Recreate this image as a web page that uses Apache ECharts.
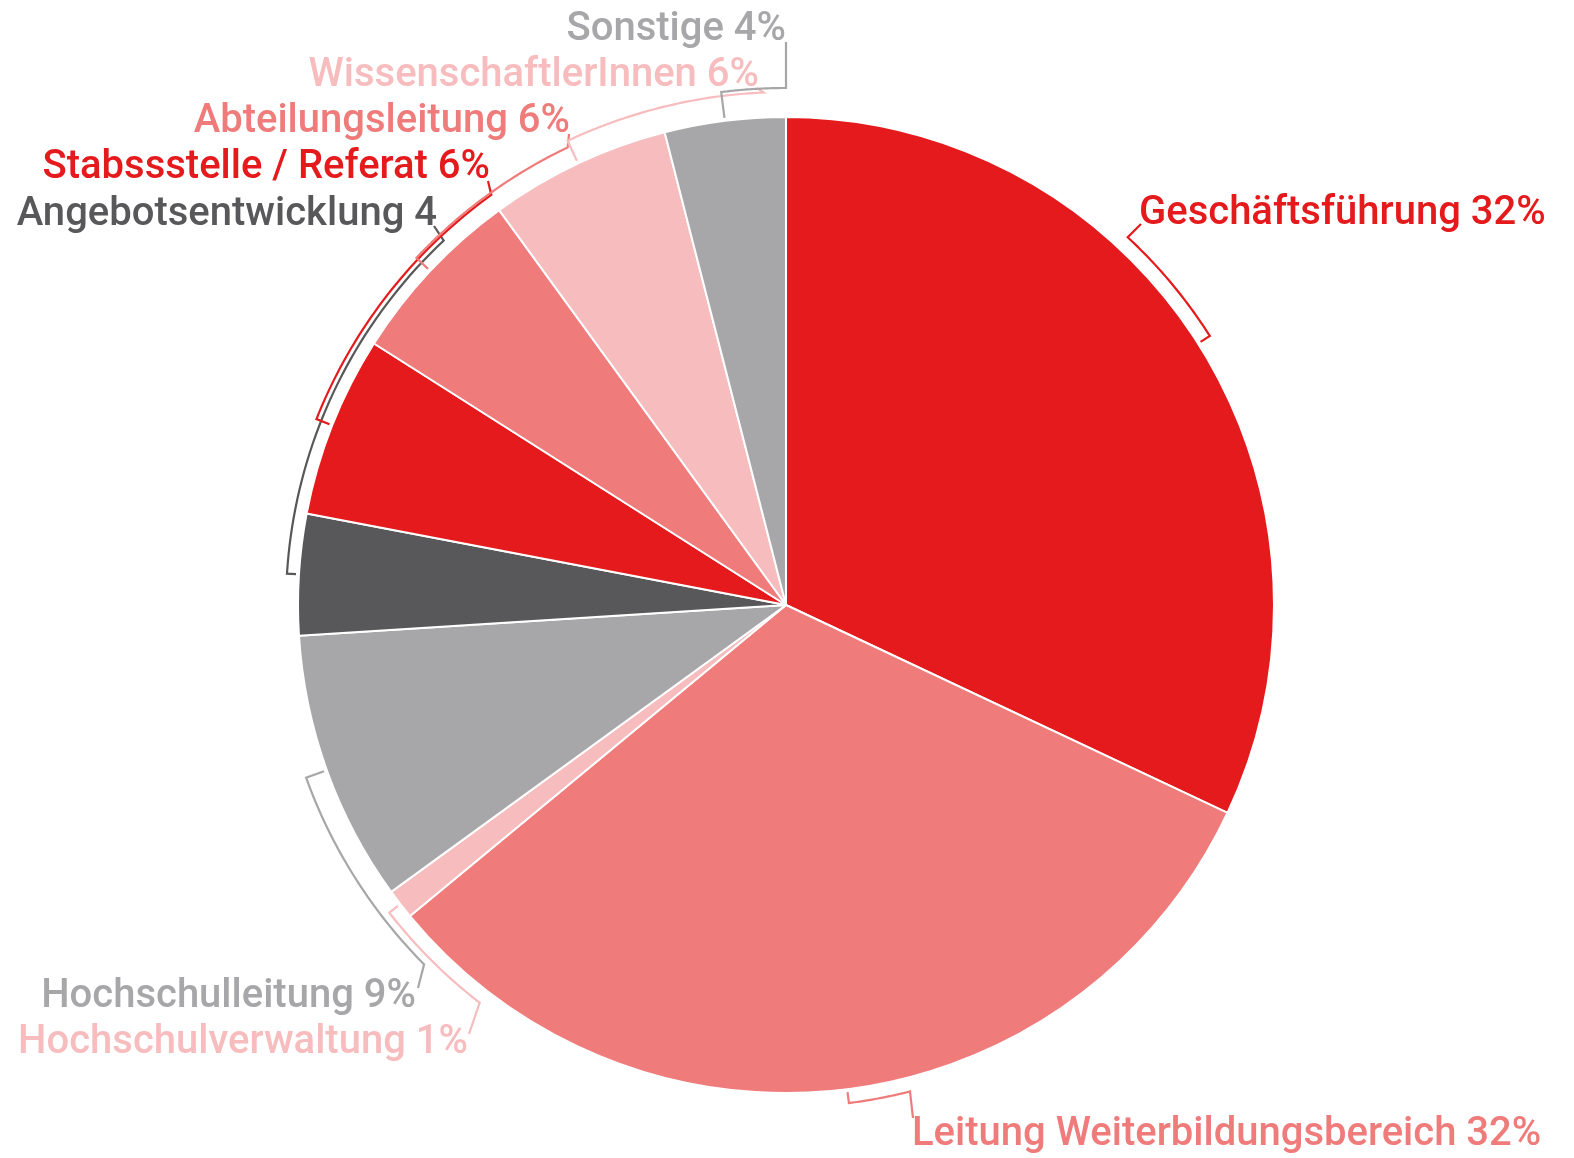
<!DOCTYPE html>
<html>
<head>
<meta charset="utf-8">
<script src="https://cdn.jsdelivr.net/npm/echarts@6/dist/echarts.min.js"></script>
<style>html,body{margin:0;padding:0;background:#fff}#chart{width:1574px;height:1158px}</style>
</head>
<body>
<div id="chart"></div>
<script>
// Daten: Anteile nach Funktion (im Uhrzeigersinn ab 12 Uhr)
var categories = ["Geschäftsführung", "Leitung Weiterbildungsbereich", "Hochschulverwaltung",
  "Hochschulleitung", "Angebotsentwicklung", "Stabssstelle / Referat", "Abteilungsleitung",
  "WissenschaftlerInnen", "Sonstige"];
var values = [32, 32, 1, 9, 4, 6, 6, 6, 4];
var labelTexts = ["Geschäftsführung 32%", "Leitung Weiterbildungsbereich 32%", "Hochschulverwaltung 1%",
  "Hochschulleitung 9%", "Angebotsentwicklung 4", "Stabssstelle / Referat 6%", "Abteilungsleitung 6%",
  "WissenschaftlerInnen 6%", "Sonstige 4%"];

// Farben
var RED = "#E41A1C", SALMON = "#EF7B7B", PINK = "#F7BCBD", GRAY = "#A7A6A8", DARK = "#58585A";
var colors = [RED, SALMON, PINK, GRAY, DARK, RED, SALMON, PINK, GRAY];

// Layout
var CX = 786, CY = 605, RADIUS = 488;
// Beschriftungen: [x, y, Ausrichtung]
var labelAnchor = [[1139, 214, "left"], [912, 1135, "left"], [468, 1043, "right"], [416, 997, "right"],
  [437, 215, "right"], [490, 168, "right"], [570, 122, "right"], [759, 76, "right"], [786, 30, "right"]];
// Klammern: Endwinkel (Grad ab 12 Uhr), Abstand zum Kreis, Endpunkt der Führungslinie
var bracketEnd = [42.9, 165.7, 217.6, 225.2, 316.8, 324.3, 334.5, 357.5, 360];
var bracketOffset = [14, 14, 14, 22, 12, 17, 19, 25, 29];
var leaderEnd = [[1141, 224], [913, 1118], [469, 1034], [418, 988], [434, 226], [488, 181], [569, 134], [757, 88], [786, 42]];

var total = values.reduce(function (a, b) { return a + b; }, 0);
var mids = [], acc = 0;
values.forEach(function (v) { mids.push((acc + v / 2) / total * 360); acc += v; });

function polar(deg, rad) {
  var a = deg * Math.PI / 180;
  return [CX + rad * Math.sin(a), CY - rad * Math.cos(a)];
}

var chart = echarts.init(document.getElementById("chart"), null, { renderer: "canvas" });
chart.setOption({
  animation: false,
  backgroundColor: "#fff",
  series: [{
    type: "pie",
    center: [CX, CY], radius: RADIUS,
    startAngle: 90, clockwise: true,
    data: categories.map(function (c, i) {
      return { name: c, value: values[i], itemStyle: { color: colors[i] } };
    }),
    itemStyle: { borderColor: "#fff", borderWidth: 2 },
    label: { show: false },
    labelLine: { show: false },
    emphasis: { disabled: true }
  }, {
    // Klammern entlang des Kreisrands + Beschriftung
    type: "custom", coordinateSystem: "none", silent: true,
    data: values.map(function (v, i) { return [i]; }),
    renderItem: function (params, api) {
      var i = api.value(0);
      var m = mids[i], e = bracketEnd[i], R = RADIUS + bracketOffset[i];
      var pts = [polar(m, RADIUS + 3)];
      for (var k = 0; k <= 40; k++) pts.push(polar(m + (e - m) * k / 40, R));
      pts.push(leaderEnd[i]);
      var a = labelAnchor[i];
      return { type: "group", children: [
        { type: "polyline", shape: { points: pts },
          style: { stroke: colors[i], lineWidth: 2.2, fill: null } },
        { type: "text", x: a[0], y: a[1],
          style: { text: labelTexts[i], fill: colors[i], fontFamily: "Roboto", fontSize: 40, fontWeight: 500,
            align: a[2], verticalAlign: "middle", textAlign: a[2], textVerticalAlign: "middle" } }
      ] };
    }
  }]
});
</script>
</body>
</html>
